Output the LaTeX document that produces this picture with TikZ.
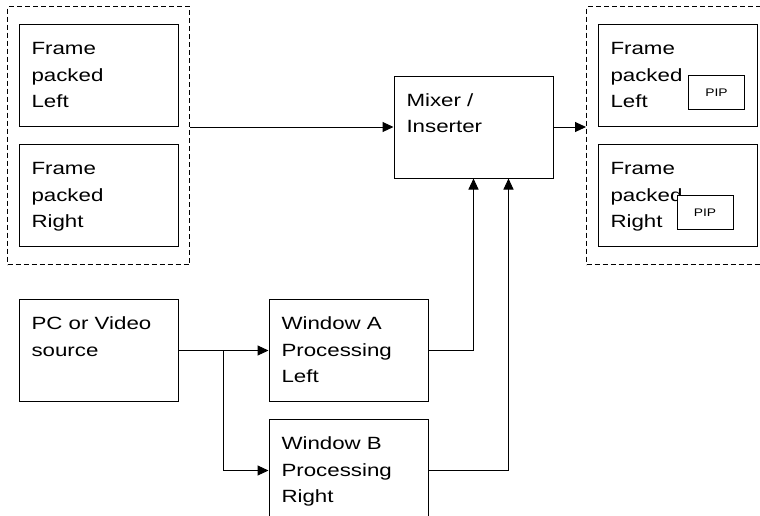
\documentclass[tikz,border=0pt]{standalone}
\usepackage{fontspec}
\setmainfont{Liberation Sans}[FakeStretch=1.26]
\usetikzlibrary{arrows.meta,positioning,fit}
\newcommand{\boxtext}[1]{\parbox[c][102pt][t]{134pt}{\raggedright\rule{0pt}{30.3pt}#1}}
\tikzset{%
  % Specifications for style of nodes:
            box/.style = {rectangle, draw=black, line width=1pt, inner xsep=12.5pt, inner ysep=0pt,
                          minimum width=159pt, minimum height=102pt,
                          font=\fontsize{17.7pt}{26.5pt}\selectfont},
          group/.style = {rectangle, draw=black, line width=1pt, dash pattern=on 5pt off 3pt,
                          inner xsep=11pt, inner ysep=17.5pt},
            pip/.style = {rectangle, draw=black, fill=white, line width=1pt, inner sep=0pt,
                          minimum width=56pt, minimum height=34pt,
                          font=\fontsize{11pt}{13pt}\selectfont},
pil/.style={
           -{Triangle[length=11pt,width=10pt]},
           line width=1pt}
}
\begin{document}
\begin{tikzpicture}
\useasboundingbox (0,0) rectangle (760pt,-515pt);

\node (fpl)	[box] at (98.5pt,-75.5pt)	{\boxtext{Frame\\packed\\Left}};
\node (fpr)	[box,below=17pt of fpl]	{\boxtext{Frame\\packed\\Right}};
\node (leftgrp) [group,fit=(fpl)(fpr)] {};

\node (mixer)	[box,right=215pt of fpl.south east]	{\boxtext{Mixer /\\Inserter}};

\node (rfpl)	[box,right=419pt of fpl]	{\boxtext{Frame\\packed\\Left}};
\node (rfpr)	[box,below=17pt of rfpl]	{\boxtext{Frame\\packed\\Right}};
\node (rightgrp) [group,fit=(rfpl)(rfpr)] {};
\node (pipl)	[pip,xshift=39pt,yshift=-17pt] at (rfpl)	{PIP};
\node (pipr)	[pip,xshift=27.5pt,yshift=-17pt] at (rfpr)	{PIP};

\node (pc)	[box,below=52pt of fpr]	{\boxtext{PC or Video\\source}};
\node (wina)	[box,right=90pt of pc]	{\boxtext{Window A\\Processing\\Left}};
\node (winb)	[box,below=17pt of wina]	{\boxtext{Window B\\Processing\\Right}};
\coordinate [right=45pt of pc.east] (split);

\draw[pil] (leftgrp.east |- mixer.west) -- (mixer.west);
\draw[pil] (mixer.east) -- (rightgrp.west |- mixer.east);
\draw[pil] (pc.east) -- (wina.west);
\draw[pil] (split) |- (winb.west);
\draw[pil] (wina.east) -| (mixer.south);
\draw[pil] (winb.east) -| ([xshift=35pt]mixer.south);

\end{tikzpicture}
\end{document}
